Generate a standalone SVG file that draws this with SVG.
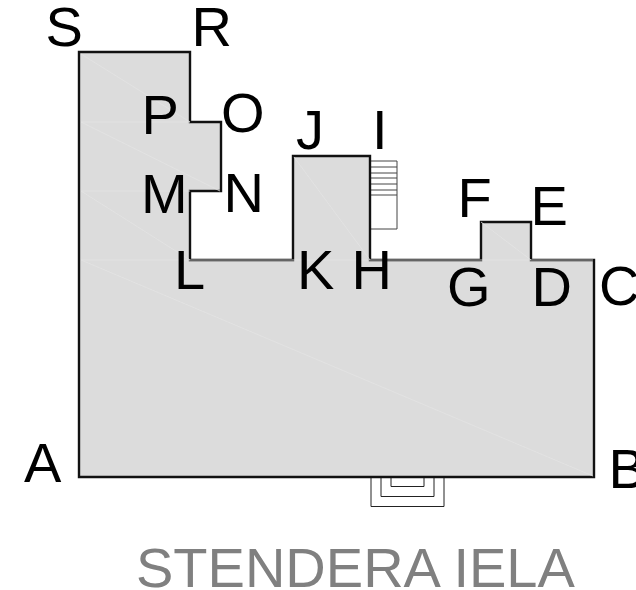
<svg xmlns="http://www.w3.org/2000/svg" width="636" height="590" viewBox="0 0 636 590">
<style>
.l{font-family:"Liberation Sans",Arial,sans-serif;font-size:56px;fill:#000}
.t{font-family:"Liberation Sans",Arial,sans-serif;font-size:56px;fill:#808080}
.f{fill:none;stroke:#e3e3e3;stroke-width:0.8}
.d{fill:none;stroke:#222;stroke-width:1}
.g{fill:none;stroke:#444;stroke-width:1}
</style>
<rect width="636" height="590" fill="#fff"/>
<path class="g" d="M371 161H397V229H371M371 167H397M371 173H397M371 178H397M371 184H397M371 190H397M371 195H397"/>
<path class="d" d="M371 477V506.500H444V477M381 477V496.500H434V477M391 477V486.500H424V477"/>
<path d="M79 52H190V122H221V191H190V260H293V156H370V260H481V222H531V260H594V477H79Z" fill="#dcdcdc" stroke="#111" stroke-width="2.400"/>
<path class="f" d="M81 54L190 122M81 122H190M81 122L220 191M81 191H190M81 191L190 260M81 260H593M81 260L593 476M294 157L370 260M481 222L531 260"/>
<text class="l" x="45.500" y="46">S</text>
<text class="l" x="191.500" y="46">R</text>
<text class="l" x="141.500" y="134">P</text>
<text class="l" x="221" y="132">O</text>
<text class="l" x="296" y="149">J</text>
<text class="l" x="372" y="148.500">I</text>
<text class="l" x="141" y="213">M</text>
<text class="l" x="223.500" y="212">N</text>
<text class="l" x="457.500" y="217">F</text>
<text class="l" x="530.500" y="225">E</text>
<text class="l" x="174" y="289">L</text>
<text class="l" x="297" y="289">K</text>
<text class="l" x="351.500" y="289">H</text>
<text class="l" x="447" y="306">G</text>
<text class="l" x="531.500" y="306">D</text>
<text class="l" x="599" y="305">C</text>
<text class="l" x="24" y="482">A</text>
<text class="l" x="608.500" y="488">B</text>
<text class="t" x="136" y="587">STENDERA IELA</text>
</svg>
